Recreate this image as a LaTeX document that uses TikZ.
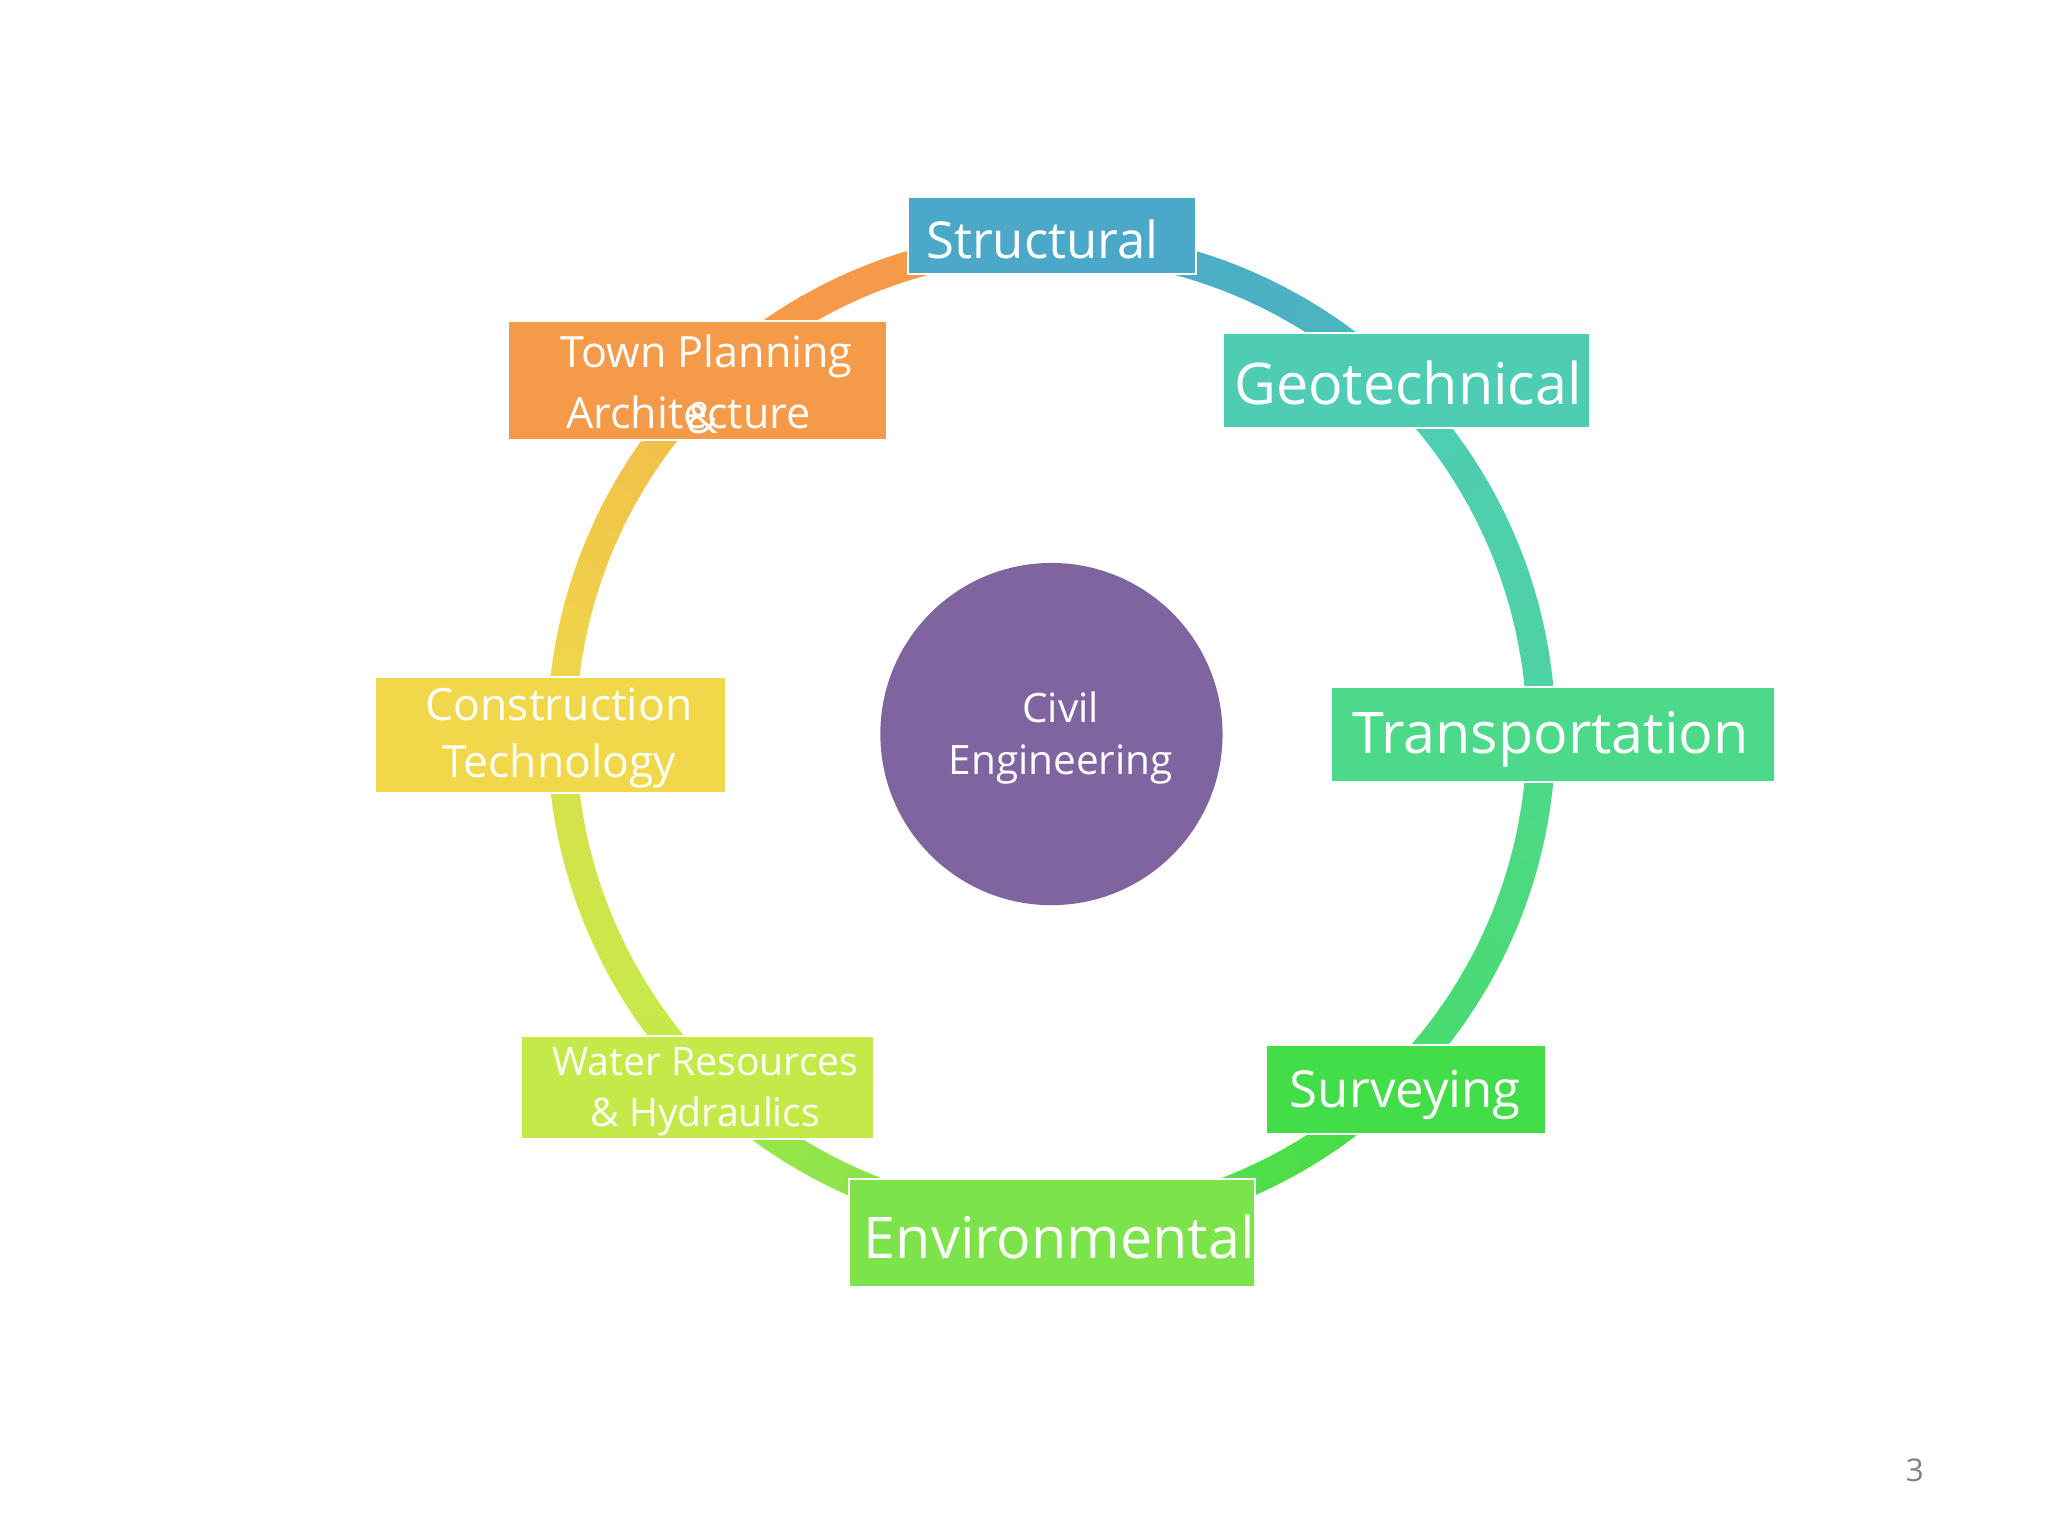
\documentclass[tikz,border=0pt]{standalone}
\usepackage{fontspec}
\setmainfont{Open Sans}
\definecolor{col0}{HTML}{4BA8C8}
\definecolor{col1}{HTML}{4ECDB4}
\definecolor{col2}{HTML}{4DD98A}
\definecolor{col3}{HTML}{44DD4A}
\definecolor{col4}{HTML}{7DE34A}
\definecolor{col5}{HTML}{C4EA4A}
\definecolor{col6}{HTML}{F0D84A}
\definecolor{col7}{HTML}{F59A48}
\definecolor{hub}{HTML}{8064A0}
\tikzset{box/.style={draw=white,line width=1.5pt,text=white,align=center,inner sep=0pt,minimum height=#1},
 lbl/.style={text=white,align=center,inner sep=0pt}}
\begin{document}
\begin{tikzpicture}[x=1pt,y=-1pt]
\useasboundingbox (0,0) rectangle (1568,1176);
\fill[white] (0,0) rectangle (1568,1176);
\foreach \i in {0,...,7}{
  \pgfmathtruncatemacro\k{mod(\i+1,8)}
  \foreach \j in {0,...,8}{
    \pgfmathsetmacro\p{\i==7 ? 100 : 100-\j*50/9}
    \pgfmathsetmacro\a{90-45*\i-5*\j}
    \colorlet{segc}{col\i!\p!col\k}
    \draw[segc,line width=22pt] ({805+375*cos(\a)},{562-375*sin(\a)}) arc[start angle={-\a},end angle={-\a+5.3},radius=375];
  }
}
\node[circle,fill=hub,minimum size=262pt,inner sep=0pt] (civ) at (805,562) {};
\node[lbl,font=\fontsize{31}{40}\selectfont] (civt) at (812,565) {Civil\\Engineering};
\node[box=59pt,fill=col0,minimum width=221pt] (st) at (805.5,180.5) {};
\node[lbl,font=\fontsize{39}{48}\selectfont] at (798,183) {Structural};
\node[box=73pt,fill=col1,minimum width=281pt] (ge) at (1076.5,291.5) {};
\node[lbl,font=\fontsize{44}{54}\selectfont] at (1078,293) {Geotechnical};
\node[box=73pt,fill=col2,minimum width=340pt] (tr) at (1189,562.5) {};
\node[lbl,font=\fontsize{44}{54}\selectfont] at (1187,566) {Transportation};
\node[box=68pt,fill=col3,minimum width=215pt] (su) at (1076.5,834) {};
\node[lbl,font=\fontsize{39}{48}\selectfont] at (1076,838) {Surveying};
\node[box=82pt,fill=col4,minimum width=311pt] (en) at (805.5,944) {};
\node[lbl,font=\fontsize{44}{54}\selectfont] at (811,947) {Environmental};
\node[box=79pt,fill=col5,minimum width=270pt] (wa) at (534,832.5) {};
\node[lbl,font=\fontsize{30}{39}\selectfont] at (540,836) {Water Resources\\\& Hydraulics};
\node[box=89pt,fill=col6,minimum width=269pt] (co) at (421.5,562.5) {};
\node[lbl,font=\fontsize{34}{44}\selectfont] at (428,565) {Construction\\Technology};
\node[box=91pt,fill=col7,minimum width=290pt] (tp) at (534,291.5) {};
\node[lbl,font=\fontsize{33}{43}\selectfont] at (541,273) {Town Planning};
\node[lbl,font=\fontsize{33}{43}\selectfont] at (527,316) {Architecture};
\node[lbl,font=\fontsize{33}{43}\selectfont] at (538,320) {\&};
\node[text=gray,font=\fontsize{24}{28}\selectfont] (pg) at (1466,1126) {3};
\end{tikzpicture}
\end{document}
